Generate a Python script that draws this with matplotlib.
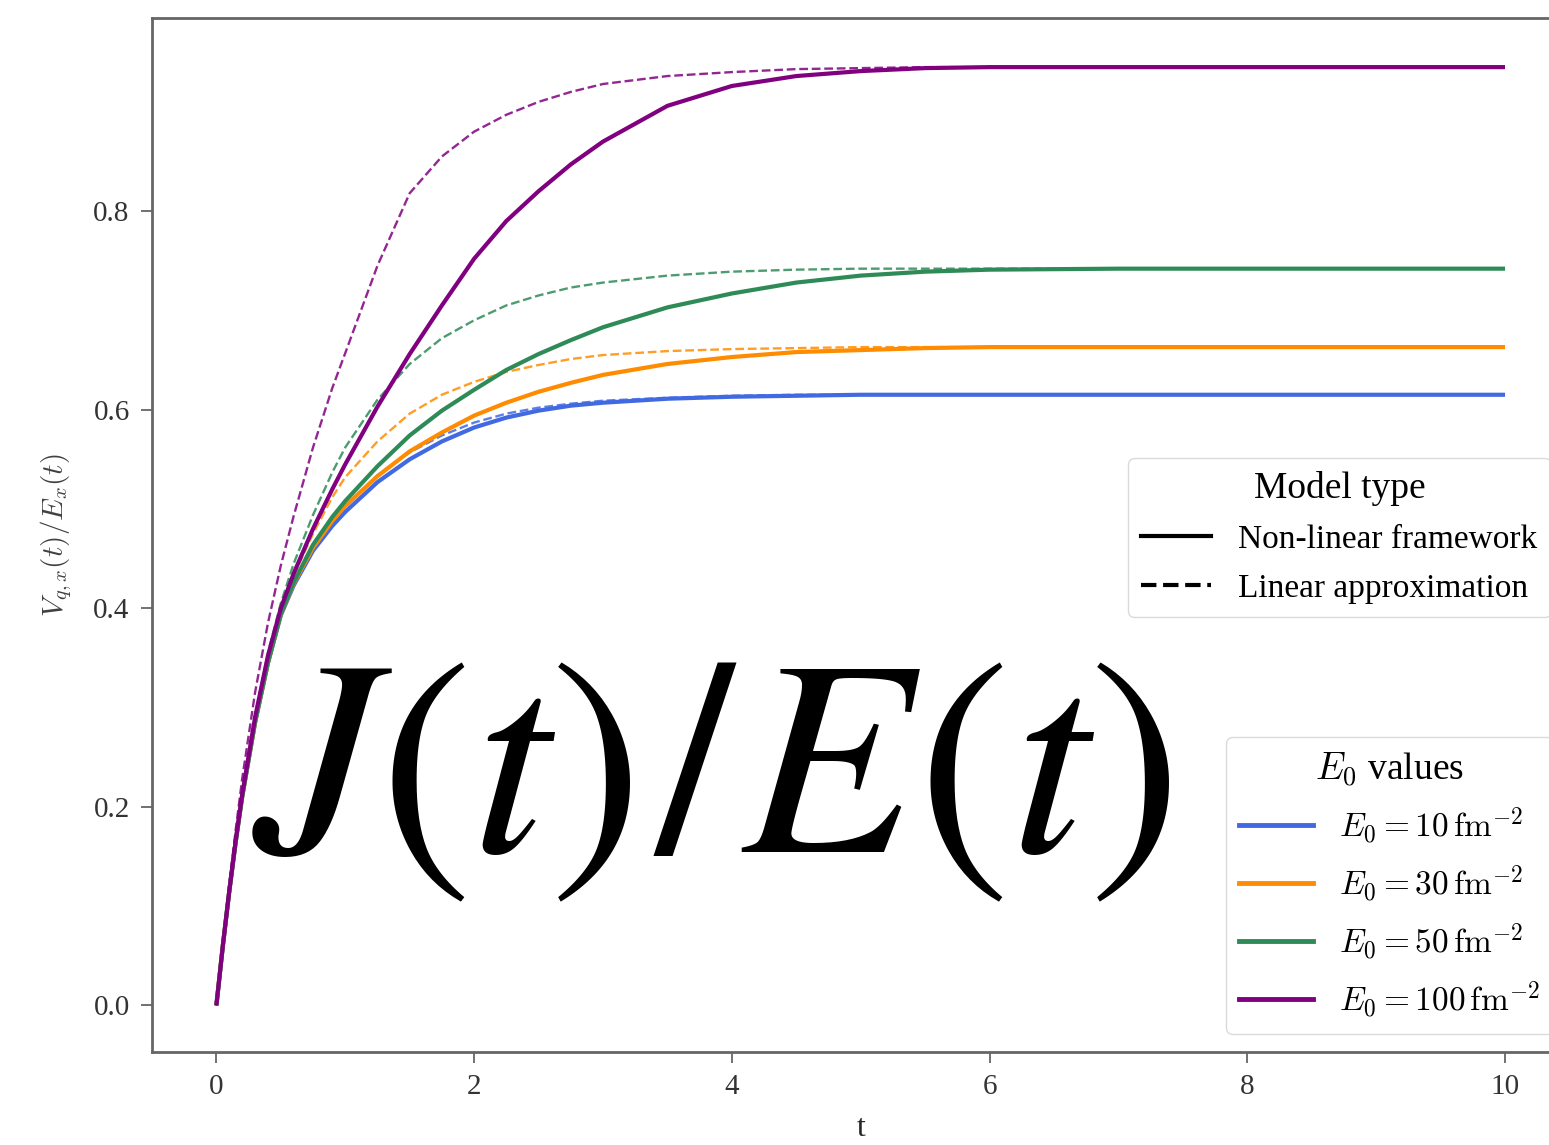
import matplotlib
matplotlib.use("Agg")
import matplotlib.pyplot as plt
from matplotlib.lines import Line2D

plt.rcParams['font.family'] = ['Liberation Serif', 'DejaVu Serif']
plt.rcParams['mathtext.fontset'] = 'cm'

t = [0, 0.05, 0.1, 0.15, 0.2, 0.3, 0.4, 0.5, 0.6, 0.75, 0.9, 1.0, 1.25, 1.5, 1.75,
     2.0, 2.25, 2.5, 2.75, 3.0, 3.5, 4.0, 4.5, 5.0, 5.5, 6.0, 7.0, 8.0, 9.0, 10.0]

nl_10 = [0, 0.06, 0.115, 0.165, 0.21, 0.285, 0.345, 0.393, 0.423, 0.458, 0.483, 0.497,
         0.527, 0.55, 0.568, 0.582, 0.592, 0.599, 0.604, 0.607, 0.611, 0.613, 0.614,
         0.615, 0.615, 0.615, 0.615, 0.615, 0.615, 0.615]
lin_10 = [0, 0.06, 0.115, 0.165, 0.21, 0.285, 0.345, 0.394, 0.425, 0.461, 0.487, 0.502,
          0.534, 0.557, 0.574, 0.587, 0.596, 0.602, 0.606, 0.609, 0.612, 0.614, 0.615,
          0.615, 0.615, 0.615, 0.615, 0.615, 0.615, 0.615]
nl_30 = [0, 0.06, 0.115, 0.165, 0.21, 0.285, 0.345, 0.394, 0.425, 0.461, 0.488, 0.503,
         0.533, 0.558, 0.577, 0.594, 0.607, 0.618, 0.627, 0.635, 0.646, 0.653, 0.658,
         0.660, 0.662, 0.663, 0.663, 0.663, 0.663, 0.663]
lin_30 = [0, 0.06, 0.115, 0.165, 0.21, 0.286, 0.347, 0.398, 0.433, 0.475, 0.512, 0.532,
          0.568, 0.596, 0.615, 0.628, 0.638, 0.645, 0.651, 0.655, 0.659, 0.661, 0.662,
          0.663, 0.663, 0.663, 0.663, 0.663, 0.663, 0.663]
nl_50 = [0, 0.06, 0.115, 0.165, 0.21, 0.285, 0.345, 0.394, 0.426, 0.464, 0.492, 0.508,
         0.543, 0.574, 0.599, 0.620, 0.640, 0.656, 0.670, 0.683, 0.703, 0.717, 0.728,
         0.735, 0.739, 0.741, 0.742, 0.742, 0.742, 0.742]
lin_50 = [0, 0.06, 0.115, 0.166, 0.213, 0.292, 0.355, 0.405, 0.445, 0.494, 0.537, 0.562,
          0.610, 0.646, 0.672, 0.690, 0.705, 0.715, 0.723, 0.728, 0.735, 0.739, 0.741,
          0.742, 0.742, 0.742, 0.742, 0.742, 0.742, 0.742]
nl_100 = [0, 0.06, 0.115, 0.166, 0.212, 0.29, 0.352, 0.40, 0.435, 0.48, 0.52, 0.545,
          0.603, 0.656, 0.705, 0.752, 0.790, 0.820, 0.847, 0.870, 0.906, 0.926, 0.936,
          0.941, 0.944, 0.945, 0.945, 0.945, 0.945, 0.945]
lin_100 = [0, 0.062, 0.122, 0.177, 0.228, 0.315, 0.385, 0.443, 0.493, 0.562, 0.622, 0.657,
           0.745, 0.818, 0.855, 0.880, 0.897, 0.910, 0.920, 0.928, 0.936, 0.940, 0.943,
           0.944, 0.945, 0.945, 0.945, 0.945, 0.945, 0.945]

e0_labels = [r'$E_0 = 10\,\mathrm{fm}^{-2}$', r'$E_0 = 30\,\mathrm{fm}^{-2}$',
             r'$E_0 = 50\,\mathrm{fm}^{-2}$', r'$E_0 = 100\,\mathrm{fm}^{-2}$']
colors = ['#4169E1', '#FF8C00', '#2E8B57', '#800080']
nl_series = [nl_10, nl_30, nl_50, nl_100]
lin_series = [lin_10, lin_30, lin_50, lin_100]

fig = plt.figure(figsize=(15.49, 11.45), dpi=100)
ax = fig.add_axes([0.0981, 0.0812, 0.9151, 0.9031])

for nl, lin, c in zip(nl_series, lin_series, colors):
    ax.plot(t, nl, color=c, lw=3.0, solid_capstyle='butt')
    ax.plot(t, lin, color=c, lw=1.7, ls='--', alpha=0.85)

ax.set_xlim(-0.5, 10.5)
ax.set_ylim(-0.047, 0.9945)
ax.set_xticks([0, 2, 4, 6, 8, 10])
ax.set_yticks([0.0, 0.2, 0.4, 0.6, 0.8])
ax.set_yticklabels(['0.0', '0.2', '0.4', '0.6', '0.8'])
ax.tick_params(labelsize=21, length=8, width=1.2, color='0.35', labelcolor='0.2', pad=8)
for sp in ax.spines.values():
    sp.set_color('0.4')
    sp.set_linewidth(2.0)
ax.set_xlabel('t', fontsize=23, color='0.15', labelpad=10)
ax.set_ylabel(r'$V_{q,x}(t)/E_x(t)$', fontsize=21, color='0.25', labelpad=14)

model_handles = [Line2D([], [], color='black', lw=3, ls='-'),
                 Line2D([], [], color='black', lw=3, ls='--')]
leg1 = ax.legend(model_handles, ['Non-linear framework', 'Linear approximation'],
                 title='Model type', loc='upper left', bbox_to_anchor=(0.6886, 0.5745),
                 borderaxespad=0, fontsize=24, title_fontsize=27, handlelength=2.1,
                 labelspacing=0.55, frameon=True, fancybox=True)
leg1.get_frame().set_edgecolor('0.82')
ax.add_artist(leg1)

e0_handles = [Line2D([], [], color=c, lw=3.5) for c in colors]
leg2 = ax.legend(e0_handles, e0_labels, title=r'$E_0$ values', loc='upper left',
                 bbox_to_anchor=(0.7577, 0.3046), borderaxespad=0, fontsize=24,
                 title_fontsize=27, handlelength=2.2, labelspacing=0.5,
                 frameon=True, fancybox=True)
leg2.get_frame().set_edgecolor('0.82')

fig.text(252 / 1549, (1145 - 852) / 1145,
         r'$\mathit{J}(\mathit{t})\hspace{0.06}/\hspace{0.04}\mathit{E}\hspace{0.02}(\mathit{t})$',
         fontsize=202, math_fontfamily='stix', ha='left', va='baseline', color='black')

fig.savefig('out.png', dpi=100)
